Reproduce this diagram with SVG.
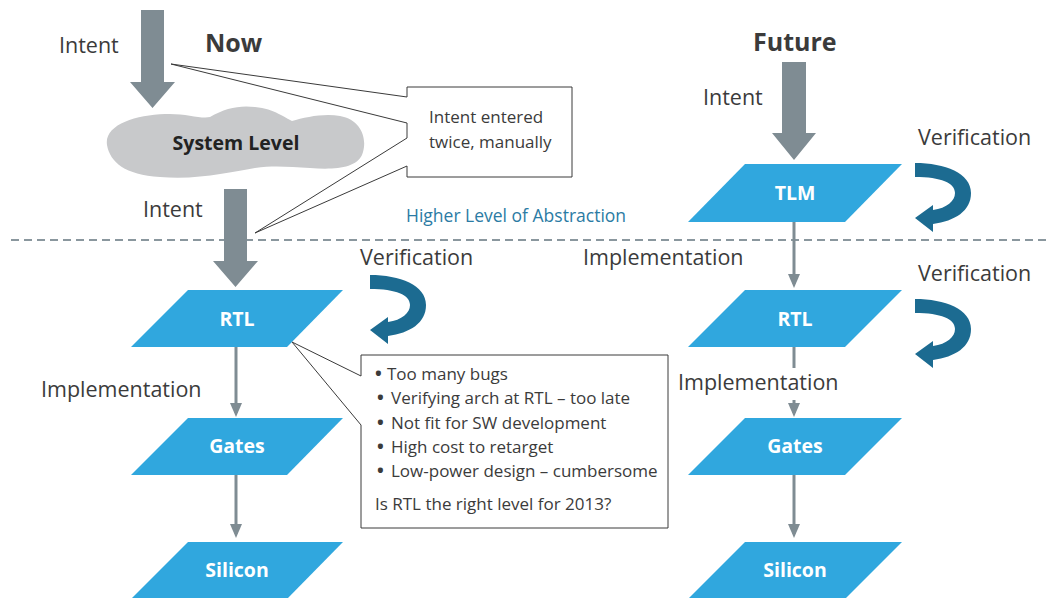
<svg xmlns="http://www.w3.org/2000/svg" width="1049" height="598" viewBox="0 0 1049 598">
<style>
.lbl{font-family:"Open Sans","Liberation Sans",sans-serif;font-size:21.5px;fill:#3b3b3b}
.hdr{font-family:"Open Sans","Liberation Sans",sans-serif;font-size:25px;font-weight:bold;fill:#3b3b3b}
.node{fill:#30a7de}
.ntxt{font-family:"Open Sans","Liberation Sans",sans-serif;font-size:19.5px;font-weight:bold;fill:#ffffff;text-anchor:middle}
.big{fill:#7f8c93}
.conn{stroke:#7f8c93;stroke-width:3;fill:none}
.loop{fill:#1c6b91}
.call{fill:#ffffff;stroke:#3a3a3a;stroke-width:1}
.ctxt{font-family:"Open Sans","Liberation Sans",sans-serif;font-size:17px;fill:#3b3b3b}
.bul{font-size:18px;font-weight:bold}
</style>
<defs>
<marker id="ah" markerUnits="userSpaceOnUse" markerWidth="14" markerHeight="12" refX="10" refY="6" orient="auto">
<path d="M0,0 L14,6 L0,12 Z" fill="#7f8c93"/>
</marker>
<path id="vloop" d="M0,0 C30,0 56,10 56,30 C56,48 40,58 18,61 L18,69 L0,55 L18,42 L18,47 C32,45 40,38 40,30 C40,20 26,14 0,14 Z"/>
</defs>
<rect width="1049" height="598" fill="#ffffff"/>

<g id="divider">
<line x1="11" y1="240" x2="1049" y2="240" stroke="#8a979e" stroke-width="2" stroke-dasharray="8 5"/>
<text x="406" y="222" font-family="Open Sans, Liberation Sans, sans-serif" font-size="17.5" fill="#2b7ba4">Higher Level of Abstraction</text>
</g>

<g id="titles">
<text class="hdr" x="205" y="52">Now</text>
<text class="hdr" x="753" y="51">Future</text>
</g>

<g id="connectors">
<path class="big" d="M141,10 H164 V82 H175 L152.5,108 L130,82 H141 Z"/>
<path class="big" d="M224,189 H247 V261 H258 L235.5,287 L213,261 H224 Z"/>
<path class="big" d="M782,62 H806 V133 H816 L794,160 L772,133 H782 Z"/>
<line class="conn" x1="236" y1="347" x2="236" y2="413" marker-end="url(#ah)"/>
<line class="conn" x1="236" y1="475" x2="236" y2="534" marker-end="url(#ah)"/>
<line class="conn" x1="794" y1="222" x2="794" y2="284" marker-end="url(#ah)"/>
<line class="conn" x1="794" y1="347" x2="794" y2="368"/>
<line class="conn" x1="794" y1="400" x2="794" y2="413" marker-end="url(#ah)"/>
<line class="conn" x1="794" y1="475" x2="794" y2="534" marker-end="url(#ah)"/>
<use href="#vloop" class="loop" x="370" y="275"/>
<use href="#vloop" class="loop" x="915" y="163"/>
<use href="#vloop" class="loop" x="915" y="299"/>
</g>

<g id="labels">
<text class="lbl" x="59" y="53">Intent</text>
<text class="lbl" x="143" y="217">Intent</text>
<text class="lbl" x="703" y="105">Intent</text>
<text class="lbl" x="360" y="265">Verification</text>
<text class="lbl" x="918" y="145">Verification</text>
<text class="lbl" x="918" y="281">Verification</text>
<text class="lbl" x="41" y="397">Implementation</text>
<text class="lbl" x="583" y="265">Implementation</text>
<text class="lbl" x="678" y="390">Implementation</text>
</g>

<g id="callout-intent">
<path class="call" d="M407,87 H572 V177 H407 V166 L255,233 L407,138 V123 L171,64 L407,97 Z"/>
<text class="ctxt" x="429" y="123">Intent entered</text>
<text class="ctxt" x="429" y="148">twice, manually</text>
</g>

<g id="system-level">
<path fill="#c8c9cb" d="M107,145 C104,125 135,115 165,114 C185,113 200,119 210,117 C225,108 240,105 255,107 C275,109 285,118 292,121 C305,117 325,113 340,116 C362,120 368,140 362,155 C356,168 335,170 310,168 C290,167 275,165 255,168 C230,172 200,180 160,177 C125,175 110,162 107,145 Z"/>
<text x="236" y="150" text-anchor="middle" font-family="Open Sans, Liberation Sans, sans-serif" font-size="19.5" font-weight="bold" fill="#222222">System Level</text>
</g>

<g id="now-rtl">
<path class="node" d="M188,290 H343 L287,347 H131 Z"/>
<text class="ntxt" x="237" y="326">RTL</text>
</g>
<g id="now-gates">
<path class="node" d="M188,418 H343 L287,475 H131 Z"/>
<text class="ntxt" x="237" y="453">Gates</text>
</g>
<g id="now-silicon">
<path class="node" d="M188,542 H343 L287,599 H131 Z"/>
<text class="ntxt" x="237" y="577">Silicon</text>
</g>

<g id="future-tlm">
<path class="node" d="M745,164 H902 L845,222 H688 Z"/>
<text class="ntxt" x="795" y="200">TLM</text>
</g>
<g id="future-rtl">
<path class="node" d="M745,290 H902 L845,347 H688 Z"/>
<text class="ntxt" x="795" y="326">RTL</text>
</g>
<g id="future-gates">
<path class="node" d="M745,418 H902 L845,475 H688 Z"/>
<text class="ntxt" x="795" y="453">Gates</text>
</g>
<g id="future-silicon">
<path class="node" d="M745,542 H902 L845,599 H688 Z"/>
<text class="ntxt" x="795" y="577">Silicon</text>
</g>

<g id="callout-rtl">
<path class="call" d="M361,355 H668 V528 H361 V425 L292,342 L361,376 Z"/>
<text class="ctxt" y="380"><tspan class="bul" x="375">•</tspan><tspan x="387">Too many bugs</tspan></text>
<text class="ctxt" y="404"><tspan class="bul" x="377">•</tspan><tspan x="391">Verifying arch at RTL – too late</tspan></text>
<text class="ctxt" y="429"><tspan class="bul" x="377">•</tspan><tspan x="391">Not fit for SW development</tspan></text>
<text class="ctxt" y="453"><tspan class="bul" x="377">•</tspan><tspan x="391">High cost to retarget</tspan></text>
<text class="ctxt" y="477"><tspan class="bul" x="377">•</tspan><tspan x="391">Low-power design – cumbersome</tspan></text>
<text class="ctxt" x="375" y="510">Is RTL the right level for 2013?</text>
</g>
</svg>
